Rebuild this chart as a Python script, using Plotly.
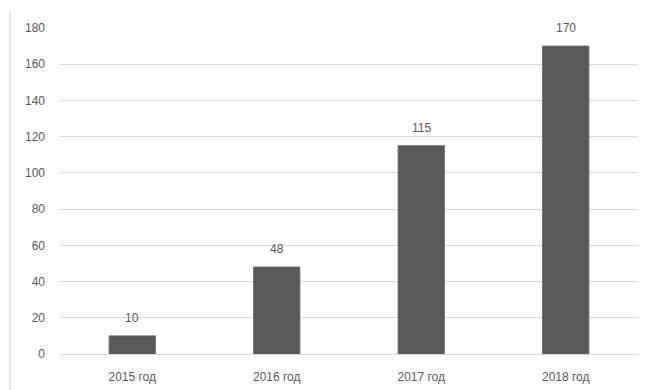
import plotly.graph_objects as go

categories = ["2015 год", "2016 год", "2017 год", "2018 год"]
values = [10, 48, 115, 170]
y_ticks = [0, 20, 40, 60, 80, 100, 120, 140, 160, 180]

fig = go.Figure()
fig.add_trace(go.Bar(
    x=categories, y=values,
    marker=dict(color="#595959", line=dict(color="#6a6a6a", width=1)),
    cliponaxis=False,
))

for c, v in zip(categories, values):
    fig.add_annotation(x=c, y=v, text=str(v), showarrow=False, yanchor="bottom",
                       yshift=9, font=dict(color="#595959", size=12, family="Liberation Sans"))

fig.update_layout(
    width=647, height=390,
    margin=dict(l=60, r=9, t=28, b=36),
    paper_bgcolor="white", plot_bgcolor="white",
    bargap=0.68,
    showlegend=False,
    font=dict(family="Liberation Sans", size=12, color="#595959"),
    xaxis=dict(showgrid=False, showline=False, zeroline=False, ticks="", automargin=False,
               ticklabelstandoff=14, tickfont=dict(size=12, color="#595959")),
    yaxis=dict(range=[0, 180], tickvals=y_ticks, showgrid=True, gridcolor="#d9d9d9",
               gridwidth=1, zeroline=True, zerolinecolor="#d9d9d9", zerolinewidth=1,
               showline=False, ticks="", ticklabelstandoff=14, automargin=False,
               tickfont=dict(size=12, color="#595959")),
    shapes=[dict(type="line", xref="paper", yref="paper",
                 x0=-0.0865, x1=-0.0865, y0=1.049, y1=-0.12,
                 line=dict(color="#d9d9d9", width=1.5))],
)

fig.write_html("out.html")
